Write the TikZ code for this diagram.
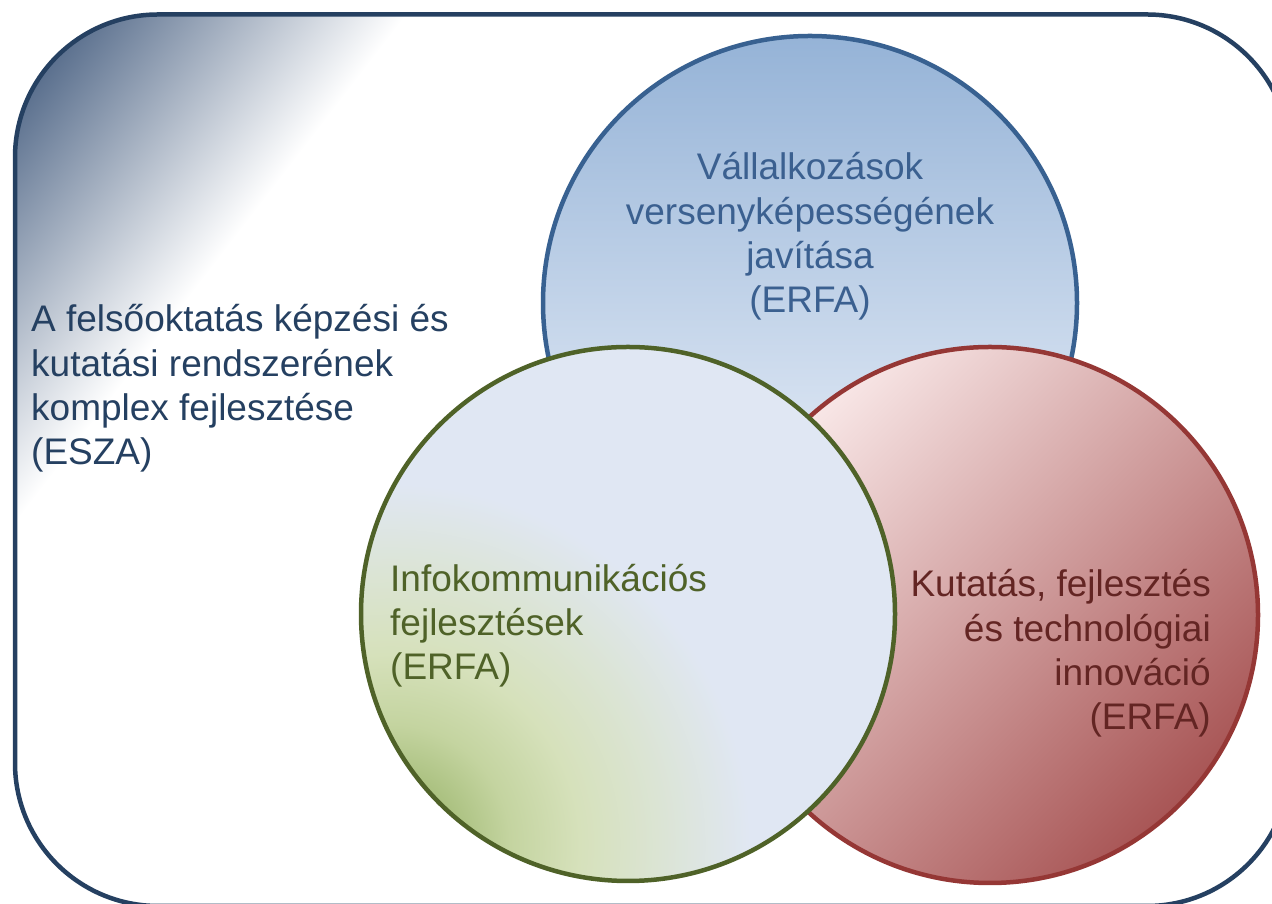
\documentclass[tikz,border=0pt]{standalone}
\usepackage{fontspec}
\setmainfont{Liberation Sans}
\definecolor{navy}{HTML}{254061}
\definecolor{navyA}{HTML}{354F74}
\definecolor{blueline}{HTML}{386191}
\definecolor{bluetop}{HTML}{95B3D7}
\definecolor{bluebot}{HTML}{F0F4FB}
\definecolor{bluetext}{HTML}{3B6090}
\definecolor{greenline}{HTML}{4F6228}
\definecolor{redline}{HTML}{953735}
\definecolor{redtext}{HTML}{632523}
\definecolor{redA}{HTML}{F9E8E8}
\definecolor{redB}{HTML}{A44E4E}
\definecolor{gA}{HTML}{96AF64}
\definecolor{gB}{HTML}{ACC282}
\definecolor{gC}{HTML}{C4D4A0}
\definecolor{gE}{HTML}{D6E1BB}
\definecolor{gF}{HTML}{DBE4D4}
\definecolor{gD}{HTML}{E0E7F3}
\pgfdeclareradialshading{greenglow}{\pgfpointorigin}{color(0bp)=(gA); color(3.5bp)=(gB); color(6bp)=(gC); color(9.5bp)=(gE); color(13.5bp)=(gF); color(18bp)=(gD); color(50bp)=(gD)}
\begin{document}
\begin{tikzpicture}[x=1pt,y=1pt,
  circ/.style={circle, minimum size=534pt, inner sep=0pt, line width=4.5pt},
  lbl/.style={inner sep=0pt, font=\fontsize{37}{44.4}\selectfont}]
\useasboundingbox (0,0) rectangle (1272,904);
% outer frame with corner gradient
\begin{scope}
  \path[clip, rounded corners=143pt] (15,-2) rectangle (1290,889.5);
  \begin{scope}[transform canvas={shift={(15,889.5)}, rotate=-37.6}]
    \shade[left color=navyA, right color=white] (0,-900) rectangle (310,900);
  \end{scope}
\end{scope}
\draw[navy, line width=4.5pt, rounded corners=143pt] (15,-2) rectangle (1290,889.5);
% blue circle
\node[circ, draw=blueline, top color=bluetop, bottom color=bluebot] (blue) at (810,601) {};
% red circle
\begin{scope}
  \clip (990,289) circle (268);
  \begin{scope}[transform canvas={shift={(800,484)}, rotate=-45}]
    \fill[redA] (-500,-700) rectangle (0,700);
    \shade[left color=redA, right color=redB] (0,-700) rectangle (566,700);
    \fill[redB] (566,-700) rectangle (1100,700);
  \end{scope}
\end{scope}
\node[circ, minimum size=536pt, draw=redline] (red) at (990,289) {};
% green circle
\begin{scope}
  \clip (628,290) circle (267);
  \fill[gD] (628,290) circle (267);
  \shade[shading=greenglow] (390,60) circle (500);
\end{scope}
\node[circ, draw=greenline] (green) at (628,290) {};
% texts (base anchor = baseline of the last line)
\node[lbl, anchor=base west, align=left, text=navy] (esza) at (31,439)
  {A felsőoktatás képzési és\\kutatási rendszerének\\komplex fejlesztése\\(ESZA)};
\node[lbl, anchor=base, align=center, text=bluetext] (vall) at (810,591)
  {Vállalkozások\\versenyképességének\\javítása\\(ERFA)};
\node[lbl, anchor=base west, align=left, text=greenline] (info) at (390,224)
  {Infokommunikációs\\fejlesztések\\(ERFA)};
\node[lbl, anchor=base east, align=right, text=redtext] (kut) at (1211,174)
  {Kutatás, fejlesztés\\és technológiai\\innováció\\(ERFA)};
\end{tikzpicture}
\end{document}
